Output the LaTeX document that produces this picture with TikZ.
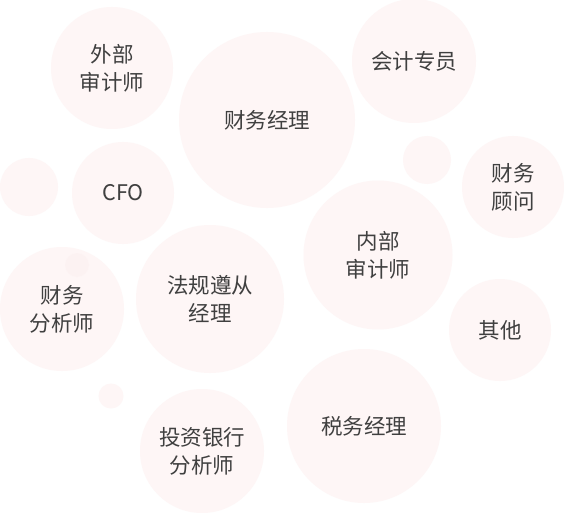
\documentclass[tikz,border=0pt]{standalone}
\usepackage{fontspec}
\setmainfont{Noto Sans CJK SC}
\definecolor{bub}{RGB}{254,246,246}
\definecolor{bubd}{RGB}{252,240,240}
\definecolor{txt}{RGB}{64,64,64}
\tikzset{
  bubble/.style={circle, fill=bub, draw=none, inner sep=0pt, text=txt, align=center,
    font=\fontsize{21.5pt}{28pt}\selectfont},
}
\begin{document}
\begin{tikzpicture}[x=1pt,y=-1pt]
\useasboundingbox[fill=white] (0,0) rectangle (564,513);
% decorative small bubbles
\node[bubble, minimum size=58pt] (s1) at (29,187) {};
\node[bubble, minimum size=48pt] (s2) at (427,160) {};
\node[bubble, minimum size=25pt] (s3) at (111,396) {};
% main bubbles
\node[bubble, minimum size=122pt] (ext) at (112,68) {外部\\审计师};
\node[bubble, minimum size=176pt] (fm) at (267,120) {财务经理};
\node[bubble, minimum size=124pt] (acc) at (414,61) {会计专员};
\node[bubble, minimum size=102pt] (cfo) at (123,193) {CFO};
\node[bubble, minimum size=102pt] (fa) at (513,187) {财务\\顾问};
\node[bubble, minimum size=149pt] (ia) at (378,255) {内部\\审计师};
\node[bubble, minimum size=124pt] (fan) at (62,309) {财务\\分析师};
\node[bubble, minimum size=148pt] (cm) at (210,299) {法规遵从\\经理};
\node[bubble, minimum size=102pt] (oth) at (500,330) {其他};
\node[bubble, minimum size=154pt] (tax) at (364,426) {税务经理};
\node[bubble, minimum size=124pt] (ib) at (202,451) {投资银行\\分析师};
\fill[bubd, opacity=0.5] (77,265) circle (12);
\end{tikzpicture}
\end{document}
